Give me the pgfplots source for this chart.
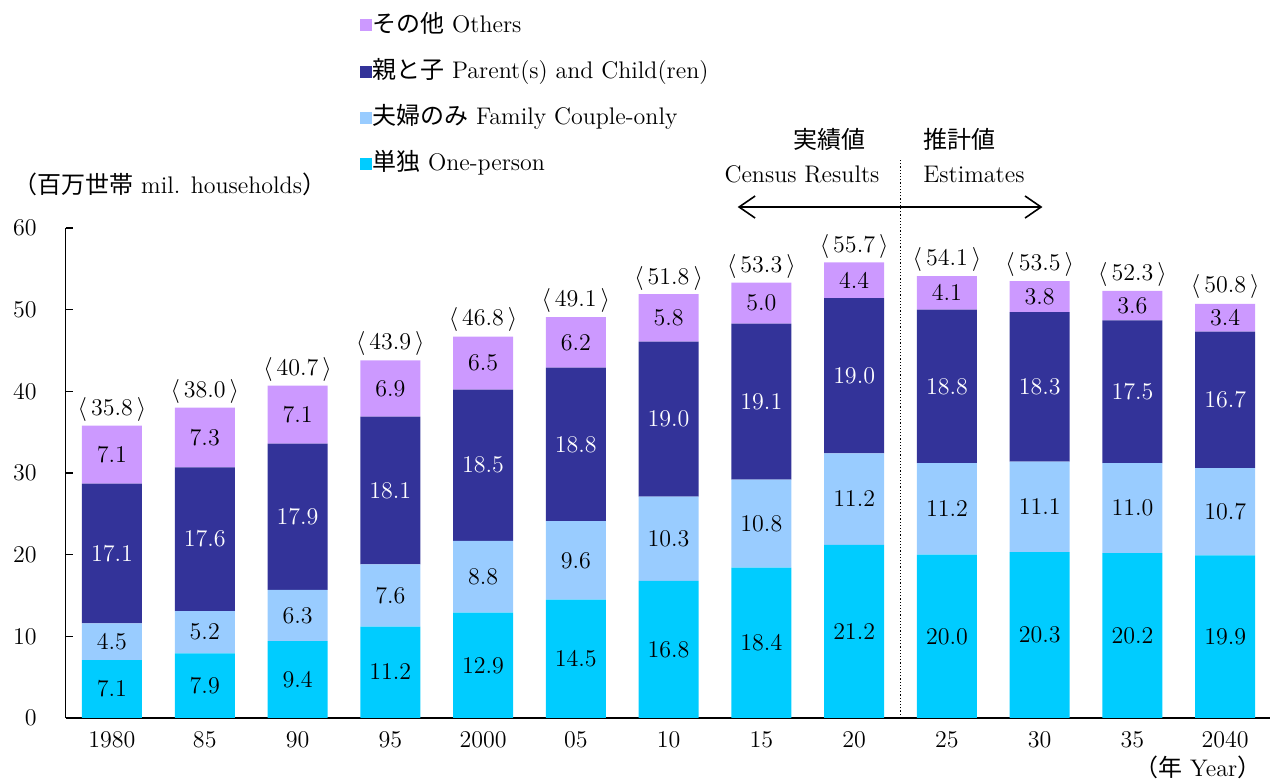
\documentclass[border=0pt]{standalone}
\usepackage{pgfplots}
\pgfplotsset{compat=1.18}
\usepackage{pgfplotstable}
\usepackage{fontspec}
\newfontfamily\jp{Noto Sans CJK JP}
\usetikzlibrary{arrows.meta}
\definecolor{cOne}{HTML}{00CCFF}
\definecolor{cCouple}{HTML}{99CCFF}
\definecolor{cParent}{HTML}{333399}
\definecolor{cOther}{HTML}{CC99FF}

\pgfplotstableread{
x one couple parent other total
0  7.1 4.5 17.1 7.1 35.8
1  7.9 5.2 17.6 7.3 38.0
2  9.4 6.3 17.9 7.1 40.7
3  11.2 7.6 18.1 6.9 43.9
4  12.9 8.8 18.5 6.5 46.8
5  14.5 9.6 18.8 6.2 49.1
6  16.8 10.3 19.0 5.8 51.8
7  18.4 10.8 19.1 5.0 53.3
8  21.2 11.2 19.0 4.4 55.7
9  20.0 11.2 18.8 4.1 54.1
10 20.3 11.1 18.3 3.8 53.5
11 20.2 11.0 17.5 3.6 52.3
12 19.9 10.7 16.7 3.4 50.8
}\data

\pgfplotsset{sqlegend/.style={legend image code/.code={\fill[##1] (0pt,-3pt) rectangle (6pt,3pt);}}}

\begin{document}
\begin{tikzpicture}[font=\fontsize{12}{14.4}\selectfont]
\useasboundingbox (-32.8pt,-32pt) rectangle (602.2pt,359pt);
\begin{axis}[
  at={(0pt,0pt)}, anchor=south west,
  scale only axis, width=603pt, height=245pt,
  xmin=-0.5, xmax=12.5, ymin=0, ymax=60,
  ybar stacked, bar width=30pt,
  axis x line*=bottom, axis y line*=left,
  axis line style={line width=0.8pt, -},
  ytick={0,10,...,60}, tick align=inside, major tick length=3.5pt,
  ytick style={line width=0.8pt, black},
  xtick=data,
  xticklabels={1980,85,90,95,2000,05,10,15,20,25,30,35,2040},
  xtick style={draw=none},
  yticklabel style={xshift=-11pt},
  xticklabel style={yshift=-3pt},
  tick label style={font=\fontsize{12}{14.4}\selectfont},
  clip=false,
  legend style={draw=none, fill=none, at={(axis description cs:0.244,1.4408)}, anchor=north west,
    legend cell align=left, row sep=10.05pt, inner sep=0pt,
    nodes={text height=10pt, text depth=3pt, inner sep=0pt, font=\fontsize{12}{14.4}\selectfont},
    /tikz/every even column/.append style={column sep=0pt}},
  reverse legend,
  point meta=explicit,
  nodes near coords={\pgfmathprintnumber[fixed,fixed zerofill,precision=1]{\pgfplotspointmeta}},
  every node near coord/.append style={anchor=center, font=\fontsize{12}{14.4}\selectfont},
]
\addplot[fill=cOne, draw=none, sqlegend] table[x=x, y=one, meta=one] {\data};
\addlegendentry{{\jp 単独} One-person}
\addplot[fill=cCouple, draw=none, sqlegend] table[x=x, y=couple, meta=couple] {\data};
\addlegendentry{{\jp 夫婦のみ} Family Couple-only}
\addplot[fill=cParent, draw=none, sqlegend, nodes near coords style={text=white}] table[x=x, y=parent, meta=parent] {\data};
\addlegendentry{{\jp 親と子} Parent(s) and Child(ren)}
\addplot[fill=cOther, draw=none, sqlegend] table[x=x, y=other, meta=other] {\data};
\addlegendentry{{\jp その他} Others}

\draw[densely dotted, line width=0.6pt] (axis cs:8.5,0) -- (axis cs:8.5,68.3);
\draw[line width=0.8pt, {Straight Barb[length=8pt,width=11pt]}-{Straight Barb[length=8pt,width=11pt]}] (axis cs:6.745,62.57) -- (axis cs:10.03,62.57);
\end{axis}
\begin{axis}[
  at={(0pt,0pt)}, anchor=south west,
  scale only axis, width=603pt, height=245pt,
  xmin=-0.5, xmax=12.5, ymin=0, ymax=60,
  hide axis, clip=false,
]
\addplot[draw=none, mark=none, point meta=explicit symbolic,
  nodes near coords={$\langle\,$\pgfplotspointmeta$\,\rangle$},
  every node near coord/.append style={anchor=south, inner sep=2pt, font=\fontsize{12}{14.4}\selectfont}]
  table[x=x, y=total, meta=total] {\data};
\end{axis}
\node[anchor=base west, inner sep=0pt] at (-26.3pt,262pt) {{\jp （百万世帯} mil. households{\jp ）}};
\node[anchor=base east, inner sep=0pt] at (598pt,-29pt) {{\jp （年} Year{\jp ）}};
\node[anchor=base, inner sep=0pt] at (381.7pt,284.5pt) {\jp 実績値};
\node[anchor=base, inner sep=0pt] at (368.2pt,267.5pt) {Census Results};
\node[anchor=base west, inner sep=0pt] at (428.7pt,284.5pt) {\jp 推計値};
\node[anchor=base west, inner sep=0pt] at (428.7pt,267.5pt) {Estimates};
\end{tikzpicture}
\end{document}
